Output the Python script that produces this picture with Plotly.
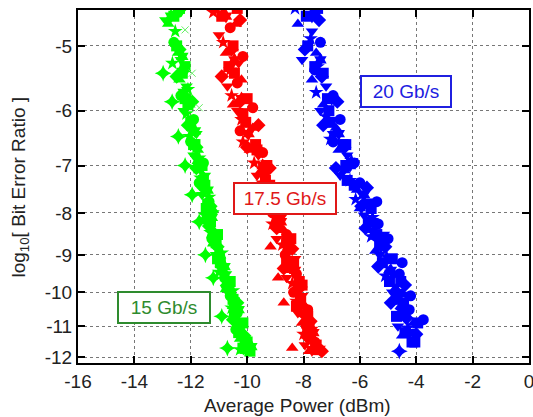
import math
import plotly.graph_objects as go

# ---------------- data (x: average power dBm, q: -log10(BER)) ----------------
# 15 Gb/s (green)
g_sq_q = [4.6, 5.0, 5.4, 5.8, 6.2, 6.6, 7.0, 7.4, 7.8, 8.2, 8.7, 9.2, 9.7, 10.2, 10.7, 11.2, 11.7]
g_sq_x = [-12.6, -12.5, -12.3, -12.2, -12.0, -11.85, -11.6, -11.5, -11.4, -11.3, -11.1, -10.95, -10.7, -10.5, -10.45, -10.3, -10.15]
g_tu_q = [4.7, 5.1, 5.5, 5.9, 6.3, 6.7, 7.1, 7.5, 7.9, 8.4, 8.9, 9.4, 9.9, 10.4, 10.9, 11.4, 11.8]
g_tu_x = [-12.8, -12.45, -12.4, -12.05, -11.95, -11.75, -11.7, -11.45, -11.25, -11.2, -11.0, -10.85, -10.6, -10.5, -10.3, -10.25, -10.05]
g_ci_q = [4.55, 4.95, 5.35, 5.75, 6.15, 6.55, 6.95, 7.35, 7.75, 8.15, 8.6, 9.1, 9.6, 10.1, 10.6, 11.1, 11.6]
g_ci_x = [-12.45, -12.6, -12.25, -12.35, -11.9, -12.0, -11.55, -11.7, -11.35, -11.45, -11.25, -11.0, -10.8, -10.6, -10.35, -10.4, -10.0]
g_td_q = [4.65, 5.2, 5.6, 6.0, 6.4, 6.8, 7.2, 7.6, 8.0, 8.5, 9.0, 9.5, 10.0, 10.5, 11.0, 11.5]
g_td_x = [-12.9, -12.35, -12.15, -12.25, -11.8, -11.9, -11.5, -11.6, -11.2, -11.15, -11.1, -10.75, -10.65, -10.4, -10.2, -10.1]
g_st_q = [4.8, 5.25, 5.65, 6.05, 6.45, 6.85, 7.25, 7.65, 8.05, 8.45, 8.95, 9.45, 9.95, 10.45, 10.95, 11.45, 11.75]
g_st_x = [-12.55, -12.65, -12.1, -12.15, -12.05, -11.7, -11.65, -11.35, -11.5, -11.3, -10.9, -11.0, -10.5, -10.55, -10.4, -10.15, -10.25]
g_di_q = [4.5, 5.05, 5.45, 5.85, 6.25, 6.65, 7.05, 7.45, 7.85, 8.3, 8.8, 9.3, 9.8, 10.3, 10.8, 11.3, 11.7]
g_di_x = [-12.35, -12.4, -12.5, -11.95, -12.1, -11.8, -11.8, -11.55, -11.3, -11.35, -11.05, -10.9, -10.7, -10.35, -10.5, -10.1, -9.95]
g_hx_q = [4.6, 5.15, 5.7, 6.35, 6.9, 7.5, 8.1, 8.7, 9.3, 9.9, 10.5, 11.1, 11.65]
g_hx_x = [-12.7, -12.3, -12.25, -11.85, -11.75, -11.4, -11.25, -11.2, -10.8, -10.75, -10.3, -10.25, -9.85]
g_s2_q = [4.5, 5.3, 5.9, 6.6, 7.3, 7.9, 8.5, 9.1, 9.7, 10.3, 10.9, 11.5, 11.8]
g_s2_x = [-12.4, -12.2, -12.1, -11.9, -11.55, -11.45, -11.05, -11.05, -10.6, -10.45, -10.15, -10.0, -9.9]
g_pl_q = [5.4, 5.85, 6.45, 7.0, 7.6, 8.2, 9.0, 9.6, 10.7, 11.7]
g_pl_x = [-12.98, -12.66, -12.44, -12.2, -11.95, -11.7, -11.48, -11.2, -10.9, -10.7]
g_x_q = [4.78, 5.4, 5.95]
g_x_x = [-12.2, -11.95, -11.7]

# 17.5 Gb/s (red)
r_sq_q = [4.6, 5.0, 5.4, 5.8, 6.2, 6.6, 7.0, 7.4, 7.8, 8.2, 8.7, 9.2, 9.7, 10.2, 10.7, 11.2, 11.75]
r_sq_x = [-10.9, -10.5, -10.45, -10.0, -10.05, -9.7, -9.3, -9.2, -8.95, -8.9, -8.6, -8.35, -8.15, -8.1, -7.85, -7.75, -7.55]
r_tu_q = [4.7, 5.1, 5.5, 5.9, 6.3, 6.7, 7.1, 7.5, 7.9, 8.4, 8.9, 9.4, 9.9, 10.4, 10.9, 11.4, 11.8]
r_tu_x = [-10.4, -10.75, -10.2, -10.5, -9.8, -9.9, -9.5, -9.1, -9.2, -8.7, -8.5, -8.45, -8.3, -7.95, -8.05, -7.65, -7.8]
r_td_q = [4.85, 5.25, 5.6, 6.0, 6.4, 6.8, 7.2, 7.6, 8.1, 8.6, 9.1, 9.6, 10.1, 10.6, 11.1, 11.6]
r_td_x = [-11.0, -10.3, -10.7, -10.35, -10.0, -9.6, -9.65, -9.35, -8.8, -8.95, -8.3, -8.6, -8.05, -8.2, -7.7, -7.95]
r_st_q = [4.55, 4.95, 5.35, 5.75, 6.15, 6.55, 6.95, 7.35, 7.75, 8.25, 8.75, 9.25, 9.75, 10.25, 10.75, 11.25, 11.7]
r_st_x = [-11.2, -10.85, -10.6, -10.55, -10.2, -10.15, -9.75, -9.45, -9.05, -9.1, -8.75, -8.5, -8.4, -8.25, -7.95, -8.0, -7.45]
r_ci_q = [4.75, 5.15, 5.55, 5.95, 6.35, 6.75, 7.15, 7.55, 8.0, 8.5, 9.0, 9.5, 10.0, 10.5, 11.0, 11.5]
r_ci_x = [-10.6, -10.15, -10.35, -9.8, -10.25, -9.45, -9.4, -9.0, -9.1, -8.6, -8.65, -8.25, -8.35, -7.85, -7.9, -7.6]
r_di_q = [4.65, 5.05, 5.45, 5.85, 6.25, 6.65, 7.05, 7.45, 7.85, 8.35, 8.85, 9.35, 9.85, 10.35, 10.85, 11.35, 11.8]
r_di_x = [-10.25, -10.55, -10.9, -10.25, -9.6, -10.0, -9.2, -9.55, -8.85, -8.95, -8.4, -8.7, -8.1, -8.1, -7.75, -7.85, -7.35]
r_hx_q = [4.6, 5.2, 5.8, 6.4, 7.0, 7.6, 8.2, 8.8, 9.4, 10.0, 10.6, 11.2, 11.75]
r_hx_x = [-10.75, -10.45, -10.2, -9.95, -9.45, -9.15, -8.8, -8.55, -8.3, -8.2, -7.95, -7.65, -7.7]
r_s2_q = [4.5, 5.3, 6.05, 6.7, 7.3, 7.9, 8.6, 9.2, 9.8, 10.4, 11.0, 11.6]
r_s2_x = [-10.35, -10.65, -10.15, -9.65, -9.35, -9.0, -8.45, -8.6, -8.05, -8.25, -7.8, -7.55]
r_ot_q = [8.8, 9.6, 10.3, 11.7]
r_ot_x = [-9.17, -8.9, -8.7, -8.4]
r_tr_q = [4.5]
r_tr_x = [-10.85]

# 20 Gb/s (blue)
b_sq_q = [4.6, 5.0, 5.4, 5.8, 6.2, 6.6, 7.0, 7.4, 7.8, 8.2, 8.7, 9.2, 9.7, 10.2, 10.7, 11.2, 11.5]
b_sq_x = [-7.9, -7.85, -7.3, -7.15, -7.05, -6.6, -6.5, -6.2, -5.75, -5.7, -5.3, -5.2, -4.95, -4.7, -4.7, -4.4, -4.15]
b_ci_q = [4.55, 4.95, 5.35, 5.75, 6.15, 6.55, 6.95, 7.35, 7.75, 8.25, 8.6, 9.2, 9.5, 10.1, 10.5, 10.8]
b_ci_x = [-7.6, -7.4, -7.6, -6.95, -6.7, -6.95, -6.2, -6.0, -5.4, -5.35, -5.0, -4.5, -4.6, -4.2, -4.25, -3.75]
b_tu_q = [4.7, 5.1, 5.5, 5.9, 6.3, 6.7, 7.1, 7.5, 7.9, 8.4, 8.9, 9.4, 9.9, 10.4, 10.9, 11.3]
b_tu_x = [-8.2, -7.55, -7.7, -7.3, -6.85, -6.75, -6.55, -6.1, -6.0, -5.5, -5.45, -4.95, -4.75, -4.55, -4.1, -4.5]
b_td_q = [4.8, 5.2, 5.6, 6.0, 6.4, 6.8, 7.2, 7.6, 8.05, 8.5, 9.0, 9.5, 10.0, 10.5, 11.0]
b_td_x = [-7.7, -8.05, -7.2, -7.4, -6.95, -6.45, -6.7, -5.9, -5.85, -5.15, -5.3, -4.8, -4.85, -4.35, -4.65]
b_st_q = [4.5, 4.9, 5.3, 5.7, 6.1, 6.5, 6.9, 7.3, 7.7, 8.1, 8.55, 9.05, 9.55, 10.05, 10.55, 11.05]
b_st_x = [-8.3, -7.75, -7.5, -7.55, -7.2, -7.05, -6.3, -6.35, -6.15, -5.55, -5.6, -5.05, -5.1, -4.45, -4.5, -4.3]
b_di_q = [4.65, 5.05, 5.45, 5.85, 6.25, 6.65, 7.05, 7.45, 7.85, 8.35, 8.8, 9.3, 9.8, 10.3, 10.75, 11.25]
b_di_x = [-7.45, -7.95, -7.35, -6.8, -7.3, -6.55, -6.85, -5.75, -5.95, -5.8, -5.1, -5.35, -4.4, -4.9, -4.35, -4.0]
b_hx_q = [4.6, 5.2, 5.8, 6.4, 7.0, 7.6, 8.2, 8.8, 9.4, 10.0, 10.6, 11.2]
b_hx_x = [-7.7, -7.4, -7.0, -6.75, -6.35, -5.85, -5.55, -5.25, -4.9, -4.65, -4.4, -4.25]
b_s2_q = [4.5, 5.3, 6.0, 6.6, 7.3, 7.9, 8.5, 9.1, 9.7, 10.3, 10.9, 11.5]
b_s2_x = [-7.5, -7.6, -7.1, -6.5, -6.45, -5.6, -5.4, -4.85, -4.55, -4.45, -3.95, -4.05]
b_pl_q = [11.8]
b_pl_x = [-4.6]

x_ticks = [-16, -14, -12, -10, -8, -6, -4, -2, 0]
y_ticks = [5, 6, 7, 8, 9, 10, 11, 12]
y_tick_text = ["-5", "-6", "-7", "-8", "-9", "-10", "-11", "-12"]

GREEN = "#00ff00"
RED = "#ff0000"
BLUE = "#0000ff"
FONT = "Liberation Sans, Arial, sans-serif"

fig = go.Figure()


def add(xs, qs, color, symbol, size=11, opacity=1.0):
    fig.add_trace(go.Scatter(
        x=xs, y=qs, mode="markers",
        marker=dict(color=color, symbol=symbol, size=size, opacity=opacity,
                    line=dict(width=0)),
        showlegend=False, hoverinfo="skip"))


series = [
    (g_sq_x, g_sq_q, GREEN, "square"), (g_tu_x, g_tu_q, GREEN, "triangle-up"),
    (g_ci_x, g_ci_q, GREEN, "circle"), (g_td_x, g_td_q, GREEN, "triangle-down"),
    (g_st_x, g_st_q, GREEN, "star"), (g_di_x, g_di_q, GREEN, "diamond"),
    (g_hx_x, g_hx_q, GREEN, "hexagram"), (g_s2_x, g_s2_q, GREEN, "square"),
    (r_sq_x, r_sq_q, RED, "square"), (r_tu_x, r_tu_q, RED, "triangle-up"),
    (r_td_x, r_td_q, RED, "triangle-down"), (r_st_x, r_st_q, RED, "star"),
    (r_ci_x, r_ci_q, RED, "circle"), (r_di_x, r_di_q, RED, "diamond"),
    (r_hx_x, r_hx_q, RED, "hexagram"), (r_s2_x, r_s2_q, RED, "square"),
    (b_sq_x, b_sq_q, BLUE, "square"), (b_ci_x, b_ci_q, BLUE, "circle"),
    (b_tu_x, b_tu_q, BLUE, "triangle-up"), (b_td_x, b_td_q, BLUE, "triangle-down"),
    (b_st_x, b_st_q, BLUE, "star"), (b_di_x, b_di_q, BLUE, "diamond"),
    (b_hx_x, b_hx_q, BLUE, "hexagram"), (b_s2_x, b_s2_q, BLUE, "square"),
]
for xs, qs, c, s in series:
    add(xs, qs, c, s)

add(g_pl_x, g_pl_q, GREEN, "star-diamond", size=12)
add(g_x_x, g_x_q, "#66ee66", "x-thin-open", size=7)
add(r_ot_x, r_ot_q, RED, "triangle-up", size=11)
add(r_tr_x, r_tr_q, RED, "triangle-right", size=11)
add(b_pl_x, b_pl_q, BLUE, "star-diamond", size=12)

q_top = 4.52
q_bot = 12.2

axis_common = dict(
    showline=True, linecolor="black", linewidth=2, mirror="ticks",
    ticks="inside", ticklen=7, tickwidth=2, tickcolor="black",
    showgrid=True, gridcolor="#777777", gridwidth=1, griddash="dot",
    zeroline=False, ticklabeloverflow="allow",
    tickfont=dict(family=FONT, size=19, color="#222222"),
)

fig.update_xaxes(range=[-16, 0], tickvals=x_ticks,
                 ticktext=[str(v) for v in x_ticks], **axis_common)
fig.update_yaxes(type="log", range=[math.log10(q_bot), math.log10(q_top)],
                 tickvals=y_ticks, ticktext=y_tick_text, **axis_common)

# axis titles
fig.add_annotation(xref="paper", yref="paper", x=0.4856, y=-0.119,
                   xanchor="center", yanchor="middle", showarrow=False,
                   text="Average Power (dBm)",
                   font=dict(family=FONT, size=19, color="#222222"))
fig.add_annotation(xref="paper", yref="paper", x=-0.1286, y=0.497,
                   xanchor="center", yanchor="middle", showarrow=False,
                   textangle=-90, text="log<sub>10</sub>[ Bit Error Ratio ]",
                   font=dict(family=FONT, size=19, color="#222222"))

labels = [
    (-4.37, 5.69, "20 Gb/s", "#2020e0", 86),
    (-8.64, 7.67, "17.5 Gb/s", "#e01818", 98),
    (-12.94, 10.45, "15 Gb/s", "#2e8b2e", 88),
]
for lx, lq, txt, col, w in labels:
    fig.add_annotation(
        x=lx, y=math.log10(lq), text=txt, showarrow=False,
        width=w, height=27, align="center", valign="middle",
        font=dict(family=FONT, size=19, color=col),
        bordercolor=col, borderwidth=2, borderpad=1, bgcolor="white")

fig.update_layout(
    width=533, height=417,
    margin=dict(l=78, r=4, t=10, b=54, autoexpand=False),
    paper_bgcolor="white", plot_bgcolor="white",
)

fig.write_html("out.html",
               config={"displayModeBar": False},
               post_script="document.body.style.margin='0';document.body.style.padding='0';")
